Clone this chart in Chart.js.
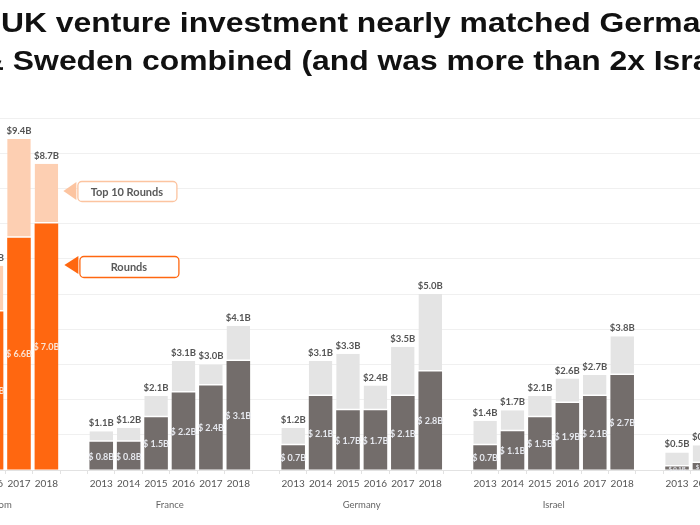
<!DOCTYPE html>
<html>
<head>
<meta charset="utf-8">
<script src="https://cdn.jsdelivr.net/npm/chart.js@4/dist/chart.umd.min.js"></script>
<style>
  html, body { margin: 0; padding: 0; background: #fff; overflow: hidden; width: 700px; height: 525px; }
  #wrap { position: absolute; left: -24px; top: 0; width: 744px; height: 525px; }
  .t { position: absolute; white-space: nowrap; font-family: "Liberation Sans", Arial, sans-serif; font-weight: bold; font-size: 27px; color: #111; transform: scaleX(1.18); transform-origin: 0 0; line-height: 30px; }
</style>
</head>
<body>
<div id="wrap"><canvas id="c" width="744" height="525"></canvas></div>
<div class="t" style="left:1px; top:8px;">UK venture investment nearly matched Germany, France</div>
<div class="t" style="left:-19px; top:46px;">&amp; Sweden combined (and was more than 2x Israel)</div>
<script>
// ---- data (visible part of the chart) ----
const countries = ['United Kingdom', 'France', 'Germany', 'Israel', 'Sweden'];
const allYears = ['2013', '2014', '2015', '2016', '2017', '2018'];

const ukYears = ['2016', '2017', '2018'];
const ukTotals = [5.8, 9.4, 8.7];
const ukRounds = [4.5, 6.6, 7.0];

const franceYears = ['2013', '2014', '2015', '2016', '2017', '2018'];
const franceTotals = [1.1, 1.2, 2.1, 3.1, 3.0, 4.1];
const franceRounds = [0.8, 0.8, 1.5, 2.2, 2.4, 3.1];

const germanyYears = ['2013', '2014', '2015', '2016', '2017', '2018'];
const germanyTotals = [1.2, 3.1, 3.3, 2.4, 3.5, 5.0];
const germanyRounds = [0.7, 2.1, 1.7, 1.7, 2.1, 2.8];

const israelYears = ['2013', '2014', '2015', '2016', '2017', '2018'];
const israelTotals = [1.4, 1.7, 2.1, 2.6, 2.7, 3.8];
const israelRounds = [0.7, 1.1, 1.5, 1.9, 2.1, 2.7];

const swedenYears = ['2013', '2014'];
const swedenTotals = [0.5, 0.7];
const swedenRounds = [0.1, 0.2];

// ---- build table ----
const groups = [
  { name: countries[0], years: ukYears, totals: ukTotals, rounds: ukRounds, uk: true },
  { name: countries[1], years: franceYears, totals: franceTotals, rounds: franceRounds },
  { name: countries[2], years: germanyYears, totals: germanyTotals, rounds: germanyRounds },
  { name: countries[3], years: israelYears, totals: israelTotals, rounds: israelRounds },
  { name: countries[4], years: swedenYears, totals: swedenTotals, rounds: swedenRounds }
];
const labels = [], roundsData = [], topData = [], totalData = [], isUK = [], groupInfo = [];
groups.forEach((g, gi) => {
  if (gi > 0) { labels.push(''); roundsData.push(null); topData.push(null); totalData.push(null); isUK.push(false); }
  const first = labels.length;
  const y0 = allYears.indexOf(g.years[0]);
  groupInfo.push({ name: g.name, center: first - y0 + (allYears.length - 1) / 2 });
  g.years.forEach((y, i) => {
    labels.push(y);
    roundsData.push(g.rounds[i]);
    topData.push(+(g.totals[i] - g.rounds[i]).toFixed(2));
    totalData.push(g.totals[i]);
    isUK.push(!!g.uk);
  });
});

const C = { orange: '#FF6710', peach: '#FDCFB2', dark: '#736D6B', light: '#E4E4E4' };

const labelPlugin = {
  id: 'labels',
  afterDatasetsDraw(chart) {
    const ctx = chart.ctx;
    const m0 = chart.getDatasetMeta(0), m1 = chart.getDatasetMeta(1);
    ctx.save();
    ctx.textAlign = 'center';
    ctx.textBaseline = 'middle';
    for (let i = 0; i < labels.length; i++) {
      if (totalData[i] == null) continue;
      const b0 = m0.data[i], b1 = m1.data[i];
      const segH = b0.base - b0.y;
      // inner label
      ctx.font = (segH < 10 ? 'bold 6px ' : 'bold 9px ') + 'Lato, "Open Sans", sans-serif';
      ctx.fillStyle = isUK[i] ? '#FBE3D3' : '#E6E8EE';
      ctx.fillText('$ ' + roundsData[i].toFixed(1) + 'B', b0.x, (b0.y + b0.base) / 2 + 1);
      // total label
      ctx.font = 'bold 9.5px Lato, "Open Sans", sans-serif';
      ctx.fillStyle = '#555';
      ctx.fillText('$' + totalData[i].toFixed(1) + 'B', b1.x, b1.y - 8);
    }
    // country names
    const xs = chart.scales.x;
    ctx.font = '9.5px Lato, "Open Sans", sans-serif';
    ctx.fillStyle = '#666';
    groupInfo.forEach(g => {
      ctx.fillText(g.name, xs.getPixelForValue(g.center), 505);
    });
    // callouts
    function callout(tipX, tipY, bx, by, bw, bh, color, text) {
      ctx.fillStyle = color;
      ctx.beginPath();
      ctx.moveTo(tipX, tipY);
      ctx.lineTo(bx - 1, tipY - 9);
      ctx.lineTo(bx - 1, tipY + 9);
      ctx.closePath();
      ctx.fill();
      ctx.beginPath();
      ctx.roundRect(bx + 0.5, by + 0.5, bw, bh, 4);
      ctx.fillStyle = '#fff';
      ctx.fill();
      ctx.lineWidth = 1.3;
      ctx.strokeStyle = color;
      ctx.stroke();
      ctx.fillStyle = '#595959';
      ctx.font = 'bold 11px Lato, "Open Sans", sans-serif';
      ctx.fillText(text, bx + bw / 2, by + bh / 2 + 1);
    }
    const ukX = m1.data[2].x;
    callout(ukX + 17, 191, ukX + 31, 181, 99, 20, '#FCC4A0', 'Top 10 Rounds');
    callout(ukX + 18, 265, ukX + 33, 256, 99, 21, C.orange, 'Rounds');
    ctx.restore();
  }
};

new Chart(document.getElementById('c'), {
  type: 'bar',
  data: {
    labels: labels,
    datasets: [
      { label: 'Rounds', data: roundsData, stack: 's',
        backgroundColor: ctx => isUK[ctx.dataIndex] ? C.orange : C.dark, borderWidth: 0 },
      { label: 'Top 10 Rounds', data: topData, stack: 's',
        backgroundColor: ctx => isUK[ctx.dataIndex] ? C.peach : C.light,
        borderColor: '#fff', borderWidth: { bottom: 1.5, top: 0, left: 0, right: 0 }, borderSkipped: false }
    ]
  },
  options: {
    responsive: false,
    animation: false,
    devicePixelRatio: 1,
    layout: { padding: { top: 118, left: 0, right: 0, bottom: 0 } },
    datasets: { bar: { categoryPercentage: 1, barPercentage: 0.86 } },
    plugins: { legend: { display: false }, tooltip: { enabled: false }, title: { display: false } },
    scales: {
      x: {
        stacked: true,
        afterFit: s => { s.height = 55; },
        ticks: { autoSkip: false, maxRotation: 0, padding: 4, color: '#555', font: { family: 'Lato, "Open Sans", sans-serif', size: 10 } },
        grid: { display: true, drawOnChartArea: false, offset: true, tickLength: 4, color: '#e2e2e2' },
        border: { display: true, color: '#e2e2e2' }
      },
      y: {
        stacked: true, min: 0, max: 10,
        afterFit: s => { s.width = 0; },
        ticks: { display: false, stepSize: 1 },
        grid: { color: '#f0f0f0', drawTicks: false },
        border: { display: false }
      }
    }
  },
  plugins: [labelPlugin]
});
</script>
</body>
</html>
